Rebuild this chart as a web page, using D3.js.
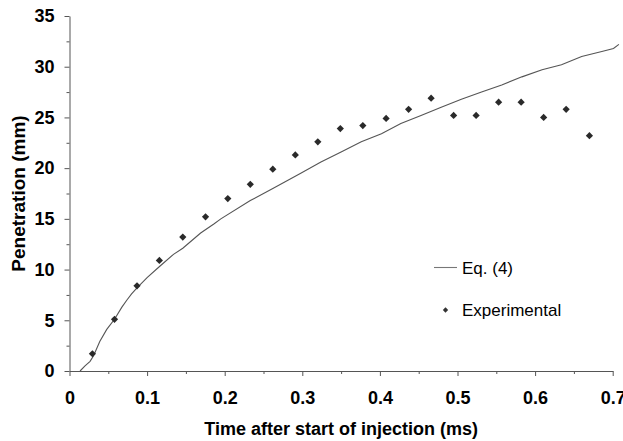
<!DOCTYPE html>
<html>
<head>
<meta charset="utf-8">
<script src="https://cdn.jsdelivr.net/npm/d3@7"></script>
<style>
  body { margin: 0; background: #fff; }
  text { font-family: "Liberation Sans", Arial, sans-serif; }
</style>
</head>
<body>
<div id="chart"></div>
<script>
// data
var expTime = [0.0295, 0.058, 0.087, 0.1158, 0.146, 0.1753, 0.204, 0.233, 0.262, 0.291,
               0.320, 0.349, 0.378, 0.408, 0.437, 0.466, 0.495, 0.524, 0.553, 0.582,
               0.611, 0.640, 0.670];
var expPen = [1.7, 5.1, 8.4, 10.9, 13.2, 15.2, 17.0, 18.4, 19.9, 21.3,
              22.6, 23.9, 24.2, 24.9, 25.8, 26.9, 25.2, 25.2, 26.5, 26.5,
              25.0, 25.8, 23.2];

var eqTime = [0.0136, 0.02, 0.0265, 0.031, 0.039, 0.048, 0.058, 0.0675, 0.074, 0.08,
              0.087, 0.1, 0.116, 0.134, 0.146, 0.169, 0.186, 0.195, 0.233, 0.262,
              0.298, 0.324, 0.35, 0.376, 0.402, 0.427, 0.453, 0.479, 0.505, 0.531,
              0.557, 0.583, 0.609, 0.634, 0.66, 0.686, 0.701, 0.708];
var eqPen = [0, 0.5, 0.95, 1.5, 2.9, 4.1, 5.1, 6.3, 7.0, 7.6,
             8.2, 9.2, 10.3, 11.5, 12.1, 13.6, 14.5, 15.0, 16.8, 18.0,
             19.5, 20.6, 21.6, 22.6, 23.4, 24.4, 25.2, 26.0, 26.8, 27.5,
             28.2, 29.0, 29.7, 30.2, 31.0, 31.5, 31.8, 32.2];

var xTicks = [0, 0.1, 0.2, 0.3, 0.4, 0.5, 0.6, 0.7];
var yTicks = [0, 5, 10, 15, 20, 25, 30, 35];

var width = 623, height = 441;
var mLeft = 69.5, mRight = 612.7, mTop = 16, mBottom = 371;

var svg = d3.select("#chart").append("svg")
    .attr("width", width)
    .attr("height", height);

var x = d3.scaleLinear().domain([0, 0.7]).range([mLeft, mRight]);
var y = d3.scaleLinear().domain([0, 35]).range([mBottom, mTop]);

var axisColor = "#555";

// minor ticks first
svg.append("g")
    .attr("transform", "translate(0," + mBottom + ")")
    .call(d3.axisBottom(x).tickValues(d3.range(0.05, 0.7, 0.1)).tickSize(3).tickFormat(""))
    .call(g => g.select(".domain").remove());
svg.append("g")
    .attr("transform", "translate(" + mLeft + ",0)")
    .call(d3.axisLeft(y).tickValues(d3.range(2.5, 35, 5)).tickSize(3).tickFormat(""))
    .call(g => g.select(".domain").remove());

// major axes
svg.append("g")
    .attr("transform", "translate(0," + mBottom + ")")
    .call(d3.axisBottom(x).tickValues(xTicks).tickSize(5).tickSizeOuter(0).tickPadding(15)
        .tickFormat(d => d === 0 ? "0" : d3.format(".1f")(d)));
svg.append("g")
    .attr("transform", "translate(" + mLeft + ",0)")
    .call(d3.axisLeft(y).tickValues(yTicks).tickSize(5).tickSizeOuter(0).tickPadding(10));

svg.selectAll(".tick line, .domain").attr("stroke", axisColor);
svg.selectAll(".tick text")
    .attr("font-family", "Liberation Sans, Arial, sans-serif")
    .attr("font-size", 18)
    .attr("font-weight", "bold")
    .attr("fill", "#000");

// axis titles
svg.append("text")
    .attr("x", (mLeft + mRight) / 2)
    .attr("y", 435)
    .attr("text-anchor", "middle")
    .attr("font-size", 18)
    .attr("font-weight", "bold")
    .text("Time after start of injection (ms)");

svg.append("text")
    .attr("transform", "translate(25," + (mTop + mBottom) / 2 + ") rotate(-90)")
    .attr("text-anchor", "middle")
    .attr("font-size", 19)
    .attr("font-weight", "bold")
    .text("Penetration (mm)");

// Eq. (4) curve
var line = d3.line()
    .x((d, i) => x(eqTime[i]))
    .y(d => y(d));

svg.append("path")
    .datum(eqPen)
    .attr("d", line)
    .attr("fill", "none")
    .attr("stroke", "#555")
    .attr("stroke-width", 1.1);

// experimental points
var diamond = d3.symbol().type(d3.symbolSquare).size(26);
svg.selectAll(".pt")
    .data(expPen)
    .enter().append("path")
    .attr("class", "pt")
    .attr("d", diamond)
    .attr("transform", (d, i) => "translate(" + x(expTime[i]) + "," + y(d) + ") rotate(45)")
    .attr("fill", "#2a2a2a");

// legend
var lg = svg.append("g");
lg.append("line")
    .attr("x1", 434).attr("x2", 457)
    .attr("y1", 267.5).attr("y2", 267.5)
    .attr("stroke", "#777")
    .attr("stroke-width", 1.1);
lg.append("text")
    .attr("x", 462).attr("y", 273.5)
    .attr("font-size", 17)
    .text("Eq. (4)");
lg.append("path")
    .attr("d", d3.symbol().type(d3.symbolSquare).size(14))
    .attr("transform", "translate(445.5,310) rotate(45)")
    .attr("fill", "#333");
lg.append("text")
    .attr("x", 462).attr("y", 315.5)
    .attr("font-size", 17)
    .text("Experimental");
</script>
</body>
</html>
